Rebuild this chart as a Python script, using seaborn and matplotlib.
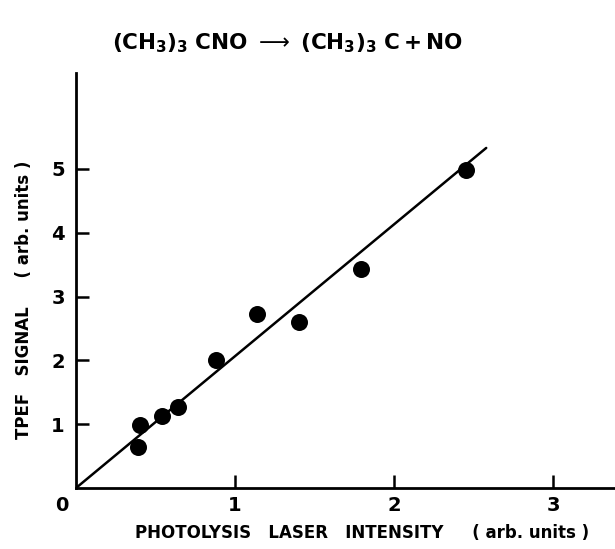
import matplotlib
matplotlib.use("Agg")
import matplotlib.pyplot as plt
import seaborn as sns
import pandas as pd

# Data
laser_intensity = [0.39, 0.40, 0.54, 0.64, 0.88, 1.14, 1.40, 1.79, 2.45]
tpef_signal = [0.65, 0.99, 1.13, 1.27, 2.00, 2.73, 2.60, 3.43, 4.98]
fit_x = [0.0, 2.58]
fit_y = [0.0, 5.33]
x_ticks = [1, 2, 3]
y_ticks = [1, 2, 3, 4, 5]

sns.set_theme(style="white")
plt.rcParams['font.family'] = ['DejaVu Sans']
plt.rcParams['mathtext.fontset'] = 'dejavusans'
plt.rcParams['text.color'] = 'black'
plt.rcParams['xtick.color'] = 'black'
plt.rcParams['ytick.color'] = 'black'
plt.rcParams['axes.labelcolor'] = 'black'

fig = plt.figure(figsize=(6.15, 5.49), dpi=100)
ax = fig.add_axes([76/615, (549-488)/549, (615-76)/615, (488-73)/549])

pts = pd.DataFrame({"x": laser_intensity, "y": tpef_signal})
fit = pd.DataFrame({"x": fit_x, "y": fit_y})
sns.lineplot(data=fit, x="x", y="y", ax=ax, color="black", linewidth=1.8)
sns.scatterplot(data=pts, x="x", y="y", ax=ax, color="black", s=150,
                edgecolor="black", linewidth=0, zorder=3)

ax.set_xlim(0, (615-76)/159)
ax.set_ylim(0, (488-73)/63.8)
for s in ["top", "right"]:
    ax.spines[s].set_visible(False)
for s in ["left", "bottom"]:
    ax.spines[s].set_color("black")
    ax.spines[s].set_linewidth(2.0)

ax.set_xticks(x_ticks)
ax.set_xticklabels([str(t) for t in x_ticks], fontsize=14, fontweight="bold")
ax.set_yticks(y_ticks)
ax.set_yticklabels([str(t) for t in y_ticks], fontsize=14, fontweight="bold")
ax.tick_params(axis="both", direction="in", length=9.5, width=1.8, color="black",
               labelcolor="black", bottom=True, left=True)
ax.tick_params(axis="x", pad=6)
ax.tick_params(axis="y", pad=8)
ax.text(-0.09, -0.27, "0", fontsize=14, fontweight="bold", ha="center", va="center",
        clip_on=False, transform=ax.transData, color="black")

ax.set_xlabel("")
ax.set_ylabel("")
fig.text(362/615, 1 - 533/549, "PHOTOLYSIS   LASER   INTENSITY     ( arb. units )",
         fontsize=12, fontweight="bold", ha="center", va="center", color="black")
fig.text(24/615, 1 - 300/549, "TPEF   SIGNAL     ( arb. units )",
         fontsize=12, fontweight="bold", ha="center", va="center", rotation=90,
         color="black")
fig.text(287/615, 1 - 43/549,
         r"$\mathbf{(CH_3)_3\ CNO}\ \longrightarrow\ \mathbf{(CH_3)_3\ C + NO}$",
         fontsize=15.5, ha="center", va="center", color="black")

fig.savefig("out.png", dpi=100)
